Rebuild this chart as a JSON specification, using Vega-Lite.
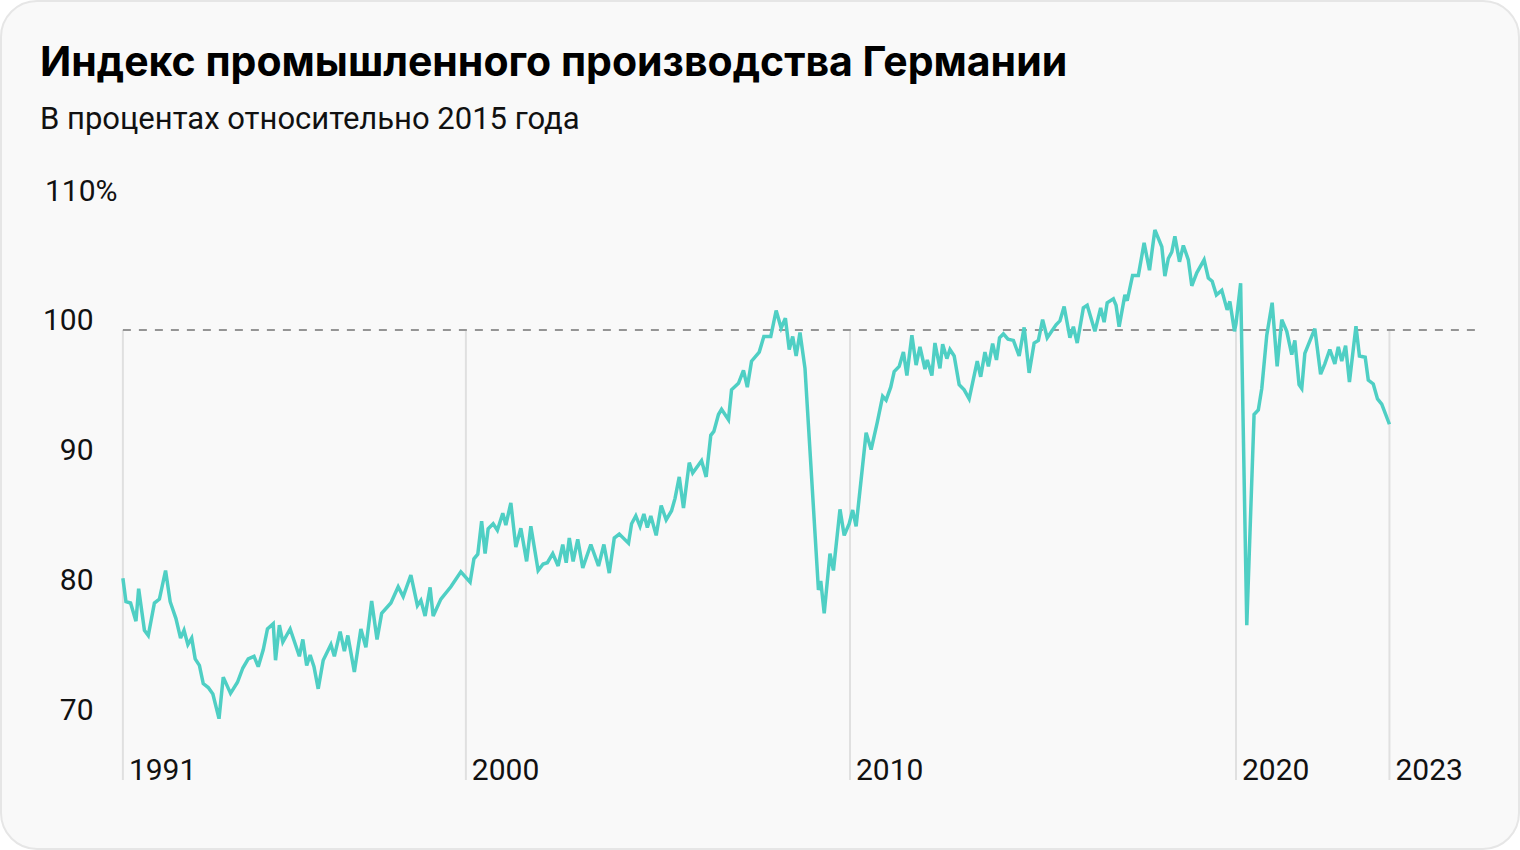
{
  "$schema": "https://vega.github.io/schema/vega-lite/v6.json",
  "width": 1518,
  "height": 848,
  "padding": 1,
  "autosize": {"type": "none"},
  "background": "#ffffff",
  "config": {
    "view": {"fill": "#f9f9f9", "stroke": "#e6e6e6", "strokeWidth": 2, "cornerRadius": 36},
    "font": "Roboto"
  },
  "title": {
    "text": "Индекс промышленного производства Германии",
    "subtitle": "В процентах относительно 2015 года",
    "anchor": "start",
    "frame": "group",
    "orient": "top",
    "offset": -135,
    "dx": 39,
    "font": "Inter",
    "fontSize": 41,
    "fontWeight": 700,
    "color": "#000000",
    "subtitleFont": "Roboto",
    "subtitleFontSize": 31,
    "subtitleColor": "#111111",
    "subtitlePadding": 20
  },
  "layer": [
    {
      "data": {"values": [
        {"t": 1991.05, "label": "1991"},
        {"t": 1999.97, "label": "2000"},
        {"t": 2009.96, "label": "2010"},
        {"t": 2020.0, "label": "2020"},
        {"t": 2023.99, "label": "2023"}
      ]},
      "mark": {"type": "rule", "color": "#e0e0e0", "strokeWidth": 2},
      "encoding": {
        "x": {"field": "t", "type": "quantitative", "axis": null},
        "y": {"datum": 100, "type": "quantitative"},
        "y2": {"datum": 65.385}
      }
    },
    {
      "data": {"values": [{"from": 1991.05, "to": 2026.35, "level": 100}]},
      "mark": {"type": "rule", "color": "#959595", "strokeWidth": 2, "strokeDash": [8, 8]},
      "encoding": {
        "x": {"field": "from", "type": "quantitative", "axis": null},
        "x2": {"field": "to"},
        "y": {"field": "level", "type": "quantitative"}
      }
    },
    {
      "data": {"values": [
        {"t": 1991.05, "label": "1991"},
        {"t": 1999.97, "label": "2000"},
        {"t": 2009.96, "label": "2010"},
        {"t": 2020.0, "label": "2020"},
        {"t": 2023.99, "label": "2023"}
      ]},
      "mark": {"type": "text", "align": "left", "baseline": "alphabetic", "dx": 6, "font": "Roboto", "fontSize": 30, "color": "#111111"},
      "encoding": {
        "x": {"field": "t", "type": "quantitative", "axis": null},
        "y": {"datum": 65.385, "type": "quantitative"},
        "text": {"field": "label"}
      }
    },
    {
      "data": {"values": [
        {"t":1991.05,"v":80.9},{"t":1991.13,"v":79.1},{"t":1991.25,"v":79.0},{"t":1991.39,"v":77.6},{"t":1991.46,"v":80.1},
        {"t":1991.61,"v":76.9},{"t":1991.71,"v":76.5},{"t":1991.87,"v":79.0},{"t":1992.0,"v":79.3},{"t":1992.16,"v":81.5},
        {"t":1992.28,"v":79.1},{"t":1992.43,"v":77.8},{"t":1992.55,"v":76.3},{"t":1992.64,"v":76.9},{"t":1992.74,"v":75.8},
        {"t":1992.84,"v":76.3},{"t":1992.93,"v":74.7},{"t":1993.04,"v":74.2},{"t":1993.14,"v":72.8},{"t":1993.27,"v":72.5},
        {"t":1993.39,"v":72.0},{"t":1993.55,"v":70.1},{"t":1993.66,"v":73.3},{"t":1993.85,"v":72.05},{"t":1994.03,"v":72.9},
        {"t":1994.17,"v":74.0},{"t":1994.31,"v":74.7},{"t":1994.46,"v":74.9},{"t":1994.57,"v":74.1},{"t":1994.7,"v":75.4},
        {"t":1994.81,"v":77.0},{"t":1994.96,"v":77.4},{"t":1995.02,"v":74.6},{"t":1995.12,"v":77.3},{"t":1995.21,"v":76.0},
        {"t":1995.4,"v":77.0},{"t":1995.64,"v":74.9},{"t":1995.73,"v":76.2},{"t":1995.83,"v":74.2},{"t":1995.92,"v":75.0},
        {"t":1996.02,"v":74.1},{"t":1996.13,"v":72.4},{"t":1996.26,"v":74.6},{"t":1996.46,"v":75.8},{"t":1996.55,"v":74.9},
        {"t":1996.7,"v":76.8},{"t":1996.81,"v":75.3},{"t":1996.9,"v":76.5},{"t":1997.07,"v":73.7},{"t":1997.24,"v":77.0},
        {"t":1997.37,"v":75.6},{"t":1997.52,"v":79.15},{"t":1997.66,"v":76.2},{"t":1997.78,"v":78.2},{"t":1998.02,"v":79.0},
        {"t":1998.21,"v":80.25},{"t":1998.34,"v":79.5},{"t":1998.54,"v":81.15},{"t":1998.71,"v":78.8},{"t":1998.8,"v":79.2},
        {"t":1998.91,"v":78.0},{"t":1999.04,"v":80.2},{"t":1999.12,"v":78.0},{"t":1999.32,"v":79.3},{"t":1999.58,"v":80.25},
        {"t":1999.84,"v":81.4},{"t":2000.08,"v":80.6},{"t":2000.18,"v":82.4},{"t":2000.28,"v":82.75},{"t":2000.38,"v":85.3},
        {"t":2000.47,"v":82.8},{"t":2000.55,"v":84.7},{"t":2000.68,"v":85.1},{"t":2000.79,"v":84.6},{"t":2000.93,"v":85.9},
        {"t":2001.01,"v":85.0},{"t":2001.14,"v":86.7},{"t":2001.27,"v":83.3},{"t":2001.4,"v":84.75},{"t":2001.55,"v":82.2},
        {"t":2001.66,"v":84.9},{"t":2001.85,"v":81.5},{"t":2001.98,"v":82.0},{"t":2002.09,"v":82.1},{"t":2002.23,"v":82.8},
        {"t":2002.37,"v":81.85},{"t":2002.49,"v":83.5},{"t":2002.58,"v":82.1},{"t":2002.66,"v":84.0},{"t":2002.76,"v":82.2},
        {"t":2002.88,"v":83.9},{"t":2003.01,"v":81.7},{"t":2003.22,"v":83.5},{"t":2003.42,"v":81.85},{"t":2003.56,"v":83.5},
        {"t":2003.7,"v":81.3},{"t":2003.83,"v":84.0},{"t":2003.96,"v":84.3},{"t":2004.2,"v":83.6},{"t":2004.28,"v":85.1},
        {"t":2004.39,"v":85.7},{"t":2004.5,"v":84.9},{"t":2004.6,"v":85.85},{"t":2004.69,"v":84.8},{"t":2004.78,"v":85.7},
        {"t":2004.92,"v":84.2},{"t":2005.05,"v":86.5},{"t":2005.18,"v":85.4},{"t":2005.32,"v":86.1},{"t":2005.41,"v":87.05},
        {"t":2005.52,"v":88.7},{"t":2005.63,"v":86.3},{"t":2005.78,"v":89.8},{"t":2005.87,"v":89.0},{"t":2006.1,"v":89.95},
        {"t":2006.22,"v":88.7},{"t":2006.34,"v":91.9},{"t":2006.42,"v":92.2},{"t":2006.54,"v":93.5},{"t":2006.62,"v":93.9},
        {"t":2006.8,"v":93.1},{"t":2006.88,"v":95.4},{"t":2007.06,"v":95.9},{"t":2007.19,"v":96.9},{"t":2007.29,"v":95.6},
        {"t":2007.4,"v":97.6},{"t":2007.6,"v":98.3},{"t":2007.72,"v":99.5},{"t":2007.9,"v":99.5},{"t":2008.04,"v":101.5},
        {"t":2008.17,"v":100.15},{"t":2008.28,"v":100.9},{"t":2008.38,"v":98.5},{"t":2008.47,"v":99.5},{"t":2008.56,"v":98.0},
        {"t":2008.66,"v":99.8},{"t":2008.79,"v":97.05},{"t":2009.14,"v":80.0},{"t":2009.2,"v":80.7},{"t":2009.29,"v":78.2},
        {"t":2009.44,"v":82.8},{"t":2009.53,"v":81.5},{"t":2009.7,"v":86.2},{"t":2009.81,"v":84.2},{"t":2009.94,"v":85.1},
        {"t":2010.03,"v":86.15},{"t":2010.12,"v":84.9},{"t":2010.38,"v":92.1},{"t":2010.51,"v":90.8},{"t":2010.67,"v":92.9},
        {"t":2010.81,"v":94.9},{"t":2010.9,"v":94.6},{"t":2011.02,"v":95.6},{"t":2011.11,"v":96.8},{"t":2011.24,"v":97.2},
        {"t":2011.35,"v":98.3},{"t":2011.44,"v":96.5},{"t":2011.57,"v":99.6},{"t":2011.68,"v":97.3},{"t":2011.78,"v":98.7},
        {"t":2011.91,"v":97.0},{"t":2011.97,"v":97.7},{"t":2012.09,"v":96.5},{"t":2012.17,"v":99.0},{"t":2012.3,"v":97.05},
        {"t":2012.37,"v":98.9},{"t":2012.48,"v":97.8},{"t":2012.56,"v":98.5},{"t":2012.67,"v":98.0},{"t":2012.8,"v":95.8},
        {"t":2012.93,"v":95.4},{"t":2013.06,"v":94.7},{"t":2013.27,"v":97.6},{"t":2013.36,"v":96.4},{"t":2013.47,"v":98.3},
        {"t":2013.56,"v":97.2},{"t":2013.67,"v":98.95},{"t":2013.77,"v":97.7},{"t":2013.85,"v":99.4},{"t":2013.95,"v":99.7},
        {"t":2014.07,"v":99.3},{"t":2014.21,"v":99.2},{"t":2014.36,"v":98.0},{"t":2014.49,"v":100.2},{"t":2014.62,"v":96.7},
        {"t":2014.75,"v":99.0},{"t":2014.86,"v":99.2},{"t":2014.97,"v":100.8},{"t":2015.09,"v":99.4},{"t":2015.32,"v":100.4},
        {"t":2015.42,"v":100.7},{"t":2015.53,"v":101.8},{"t":2015.68,"v":99.4},{"t":2015.77,"v":100.25},{"t":2015.87,"v":99.0},
        {"t":2016.03,"v":101.7},{"t":2016.13,"v":101.9},{"t":2016.33,"v":99.9},{"t":2016.48,"v":101.7},{"t":2016.57,"v":100.6},
        {"t":2016.65,"v":102.1},{"t":2016.81,"v":102.4},{"t":2016.88,"v":101.9},{"t":2016.96,"v":100.25},{"t":2017.11,"v":102.7},
        {"t":2017.17,"v":102.25},{"t":2017.31,"v":104.2},{"t":2017.46,"v":104.2},{"t":2017.61,"v":106.7},{"t":2017.75,"v":104.6},
        {"t":2017.89,"v":107.7},{"t":2018.07,"v":106.4},{"t":2018.15,"v":104.15},{"t":2018.24,"v":105.5},{"t":2018.33,"v":106.0},
        {"t":2018.41,"v":107.2},{"t":2018.53,"v":105.25},{"t":2018.63,"v":106.5},{"t":2018.76,"v":105.4},{"t":2018.85,"v":103.4},
        {"t":2018.98,"v":104.4},{"t":2019.17,"v":105.4},{"t":2019.28,"v":104.0},{"t":2019.38,"v":103.75},{"t":2019.49,"v":102.7},
        {"t":2019.63,"v":103.05},{"t":2019.77,"v":101.55},{"t":2019.84,"v":102.2},{"t":2019.96,"v":99.9},{"t":2020.0,"v":100.5},
        {"t":2020.12,"v":103.6},{"t":2020.28,"v":77.3},{"t":2020.47,"v":93.5},{"t":2020.58,"v":93.85},{"t":2020.67,"v":95.5},
        {"t":2020.8,"v":99.6},{"t":2020.94,"v":102.1},{"t":2021.07,"v":97.2},{"t":2021.19,"v":100.8},{"t":2021.32,"v":99.9},
        {"t":2021.45,"v":98.1},{"t":2021.53,"v":99.2},{"t":2021.64,"v":95.8},{"t":2021.71,"v":95.5},{"t":2021.79,"v":98.2},
        {"t":2022.05,"v":100.1},{"t":2022.2,"v":96.6},{"t":2022.31,"v":97.4},{"t":2022.44,"v":98.5},{"t":2022.57,"v":97.4},
        {"t":2022.66,"v":98.7},{"t":2022.75,"v":97.6},{"t":2022.85,"v":98.8},{"t":2022.95,"v":96.0},{"t":2023.12,"v":100.3},
        {"t":2023.21,"v":98.0},{"t":2023.36,"v":97.9},{"t":2023.44,"v":96.15},{"t":2023.57,"v":95.85},{"t":2023.68,"v":94.7},
        {"t":2023.79,"v":94.3},{"t":2023.99,"v":92.75}
      ]},
      "mark": {"type": "line", "color": "#4fcfc4", "strokeWidth": 3.5, "strokeJoin": "miter", "strokeMiterLimit": 3},
      "encoding": {
        "x": {"field": "t", "type": "quantitative", "axis": null,
              "scale": {"domain": [1987.88, 2027.36], "nice": false, "zero": false}},
        "y": {"field": "v", "type": "quantitative",
              "scale": {"domain": [60.0769, 125.3077], "nice": false, "zero": false},
              "axis": {
                "values": [70, 80, 90, 100, 110],
                "title": null,
                "grid": false,
                "domain": false,
                "ticks": false,
                "tickSize": 0,
                "labelAlign": "right",
                "labelBaseline": "alphabetic",
                "labelPadding": {"condition": {"test": "datum.value == 110", "value": -116}, "value": -92},
                "labelExpr": "datum.value == 110 ? '110%' : datum.label",
                "labelFont": "Roboto",
                "labelFontSize": 30,
                "labelColor": "#111111",
                "labelOverlap": false,
                "labelBound": false,
                "labelFlush": false
              }}
      }
    }
  ]
}
